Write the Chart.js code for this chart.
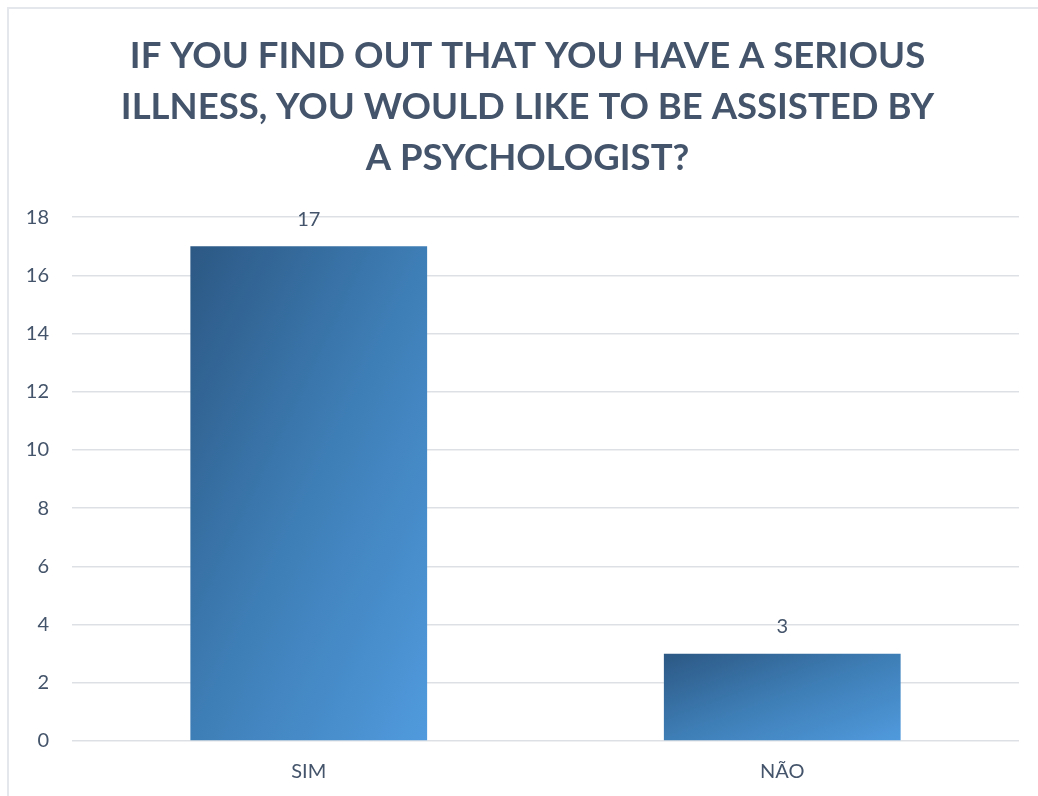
<!DOCTYPE html>
<html>
<head>
<meta charset="utf-8">
<script src="https://cdn.jsdelivr.net/npm/chart.js@4/dist/chart.umd.min.js"></script>
<style>
  html, body { margin: 0; padding: 0; background: #fff; overflow: hidden; }
  #wrap { position: relative; width: 1038px; height: 796px; }
  #frame { position: absolute; left: 7px; top: 7px; width: 1100px; height: 900px; border: 2px solid #E4E7EB; box-sizing: border-box; }
  canvas { position: absolute; left: 0; top: 0; }
</style>
</head>
<body>
<div id="wrap">
  <div id="frame"></div>
  <canvas id="chart" width="1038" height="796"></canvas>
</div>
<script>
const titleLines = [
  "IF YOU FIND OUT THAT YOU HAVE A SERIOUS",
  "ILLNESS, YOU WOULD LIKE TO BE ASSISTED BY",
  "A PSYCHOLOGIST?"
];
const categories = ["SIM", "NÃO"];
const answers = [17, 3];
const yTicks = [0, 2, 4, 6, 8, 10, 12, 14, 16, 18];

const textColor = "#44546A";
const fontFamily = "Lato, 'Open Sans', sans-serif";

// diagonal fill, dark at the top-left corner and light at the bottom-right
function barGradient(context) {
  const chart = context.chart;
  if (!chart.chartArea) return "#3D7DB8";
  const xs = chart.scales.x, ys = chart.scales.y;
  const half = xs.width / categories.length * 0.5 / 2;
  const cx = xs.getPixelForValue(context.dataIndex);
  const left = cx - half, top = ys.getPixelForValue(context.raw);
  const w = half * 2, h = ys.getPixelForValue(0) - top;
  if (h <= 0) return "#3D7DB8";
  const k = 2 / (1 / (w * w) + 1 / (h * h));
  const g = chart.ctx.createLinearGradient(left, top, left + k / w, top + k / h);
  g.addColorStop(0, "rgb(44,88,132)");
  g.addColorStop(0.5, "rgb(62,126,182)");
  g.addColorStop(1, "rgb(80,154,221)");
  return g;
}

const valueLabels = {
  id: "valueLabels",
  afterDatasetsDraw(chart) {
    const ctx = chart.ctx;
    ctx.save();
    ctx.font = "20px " + fontFamily;
    ctx.fillStyle = textColor;
    ctx.textAlign = "center";
    ctx.textBaseline = "middle";
    chart.getDatasetMeta(0).data.forEach((bar, i) => {
      ctx.fillText(String(answers[i]), bar.x, bar.y - 27);
    });
    ctx.restore();
  }
};

// centre the title over the region right of the tick labels
const titleShift = {
  id: "titleShift",
  afterLayout(chart) {
    const t = chart.titleBlock;
    if (t) { t.left += 36; t.width -= 36; }
  }
};

new Chart(document.getElementById("chart"), {
  type: "bar",
  data: {
    labels: categories,
    datasets: [{
      data: answers,
      backgroundColor: barGradient,
      categoryPercentage: 0.5,
      barPercentage: 1.0,
      borderWidth: 0
    }]
  },
  options: {
    responsive: false,
    animation: false,
    events: [],
    layout: { padding: { left: 0, right: 19, top: 0, bottom: 0 } },
    plugins: {
      legend: { display: false },
      tooltip: { enabled: false },
      title: {
        display: true,
        text: titleLines,
        color: textColor,
        font: { family: fontFamily, size: 36.5, weight: "bold", lineHeight: 1.39 },
        padding: { top: 31, bottom: 34 }
      }
    },
    scales: {
      x: {
        grid: { display: false, drawTicks: false },
        border: { display: false },
        ticks: { color: textColor, font: { family: fontFamily, size: 20 }, padding: 19 },
        afterFit(scale) { scale.height = 55; }
      },
      y: {
        min: 0,
        max: 18,
        afterBuildTicks(scale) { scale.ticks = yTicks.map(v => ({ value: v })); },
        grid: { color: "#DDE1E6", lineWidth: 1.5, drawTicks: false },
        border: { display: false },
        ticks: { color: textColor, font: { family: fontFamily, size: 20 }, padding: 23 },
        afterFit(scale) { scale.width = 72; }
      }
    }
  },
  plugins: [valueLabels, titleShift]
});
</script>
</body>
</html>
